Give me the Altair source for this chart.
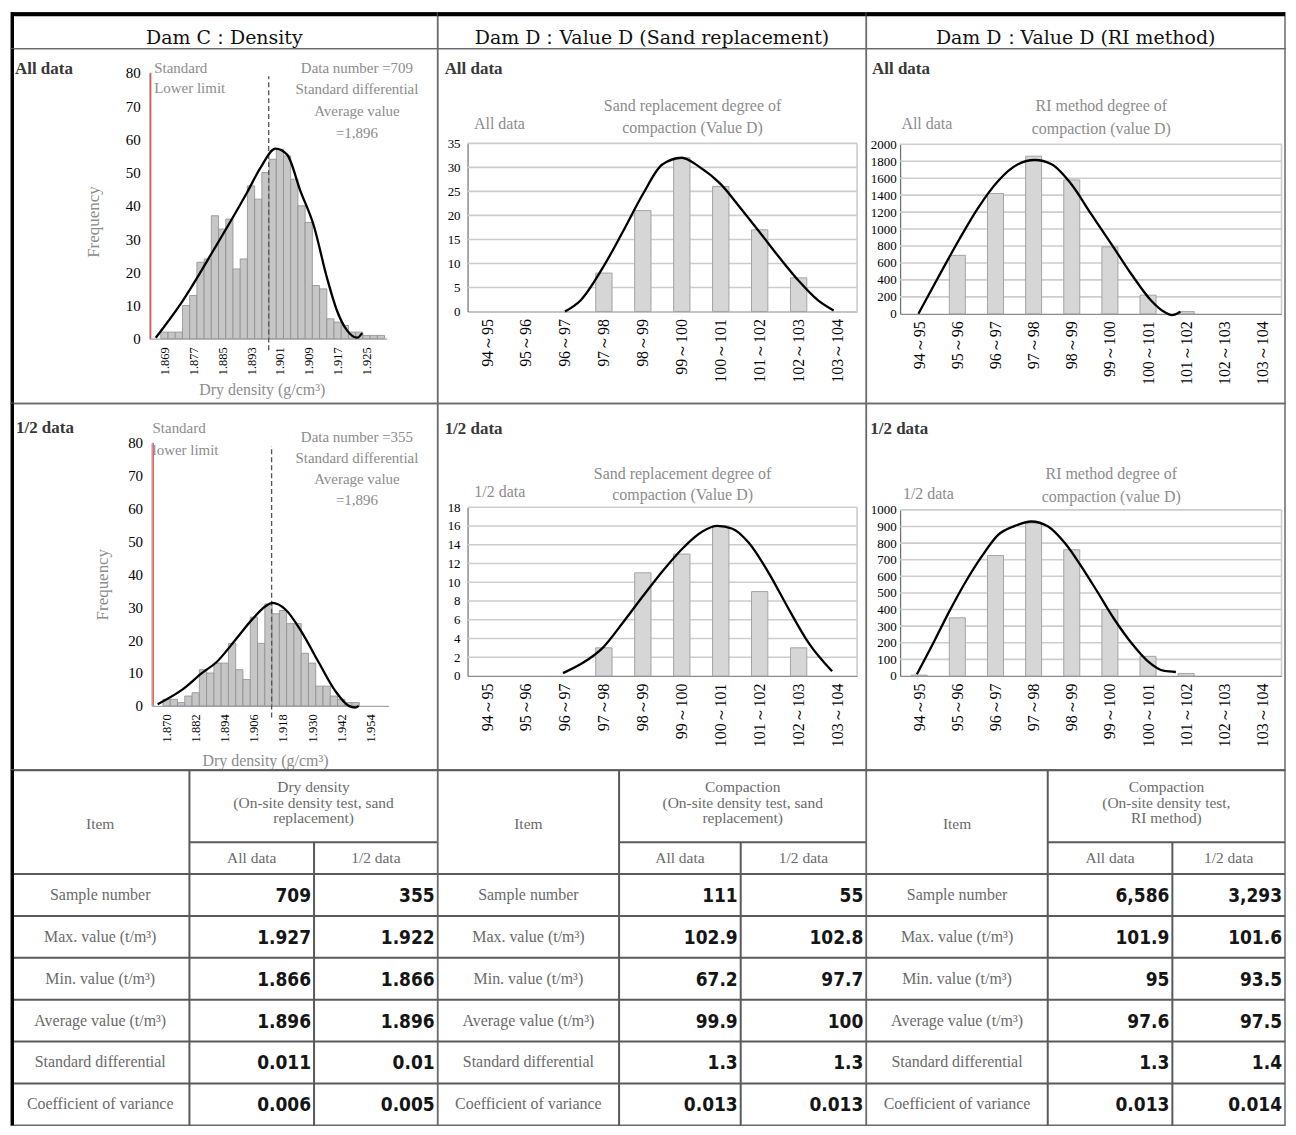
import altair as alt
import pandas as pd

SERIF = "Liberation Serif"
HEADF = "DejaVu Serif"
NARROW = "Liberation Sans Narrow, DejaVu Sans Condensed, Liberation Sans"
NOTE = "#8c8c8c"

COL_W = [428, 430, 420]
HEAD_H = 36
ROW1_H = 356
ROW2_H = 368
TAB_H = 356

# ---------------- data ----------------
HEADERS = ["Dam C：Density", "Dam D：Value D (Sand replacement)", "Dam D：Value D (RI method)"]

# Dam C dry density histogram, all data (bins of 0.002, labelled at bin centre)
DEN_ALL_FIRST = 1.869
DEN_ALL_BIN = 0.002
DEN_ALL_COUNTS = [2, 2, 2, 10, 13, 23, 24, 37, 33, 36, 21, 24, 46, 42, 50, 54, 57, 55, 48, 40,
                  35, 16, 15, 6, 5, 4, 2, 2, 1, 1, 1]
DEN_ALL_TICKS = [1.869, 1.877, 1.885, 1.893, 1.901, 1.909, 1.917, 1.925]
DEN_ALL_CURVE_X = [1.8666, 1.8735, 1.8828, 1.8919, 1.8956, 1.8998, 1.9030, 1.9067, 1.9104,
                   1.9140, 1.9168, 1.9196, 1.9224, 1.9238]
DEN_ALL_CURVE_Y = [0.3, 10.5, 27, 44, 51.4, 57.2, 55.4, 44.4, 34, 18.5, 8.5, 2.5, 0.3, 1.7]
DEN_ALL_MEAN = 1.8979
DEN_ALL_LOWER = 1.8652

# Dam C dry density histogram, 1/2 data (bins of 0.003)
DEN_HALF_FIRST = 1.870
DEN_HALF_BIN = 0.003
DEN_HALF_COUNTS = [2, 2, 1, 3, 4, 11, 10, 13, 13, 19, 11, 8, 27, 19, 31, 28, 29, 25, 25, 16,
                   13, 6, 6, 3, 2, 1, 1]
DEN_HALF_TICKS = [1.870, 1.882, 1.894, 1.906, 1.918, 1.930, 1.942, 1.954]
DEN_HALF_CURVE_X = [1.8663, 1.8766, 1.8848, 1.8903, 1.8985, 1.9053, 1.9108, 1.9136, 1.9190,
                    1.9259, 1.9328, 1.9396, 1.9451, 1.9478, 1.9492]
DEN_HALF_CURVE_Y = [0.5, 5, 10.1, 13.1, 20.2, 26.3, 30.3, 31.3, 29.3, 22.2, 13.1, 4.5, 0, -0.5, 0]
DEN_HALF_MEAN = 1.9133
DEN_HALF_LOWER = 1.8645

DEN_YTICKS = [0, 10, 20, 30, 40, 50, 60, 70, 80]

# Dam D compaction classes
D_CATS = ["94～95", "95～96", "96～97", "97～98", "98～99", "99～100",
          "100～101", "101～102", "102～103", "103～104"]

SAND_ALL = [0, 0, 0, 8, 21, 32, 26, 17, 7, 0]
SAND_ALL_CURVE_X = [2, 2.4, 3, 3.5, 4, 4.5, 5, 5.45, 6, 6.5, 7, 7.5, 8, 8.5, 8.9]
SAND_ALL_CURVE_Y = [0, 2.3, 9.5, 16.8, 24.4, 30.6, 32, 30.1, 26.5, 21.6, 16.5, 11.3, 6.4, 2.3, 0.2]
SAND_ALL_YTICKS = [0, 5, 10, 15, 20, 25, 30, 35]

SAND_HALF = [0, 0, 0, 3, 11, 13, 16, 9, 3, 0]
SAND_HALF_CURVE_X = [1.95, 2.46, 2.97, 3.49, 4.0, 4.51, 5.02, 5.53, 5.91, 6.3, 6.72, 7.23, 7.75, 8.26, 8.86]
SAND_HALF_CURVE_Y = [0.3, 1.4, 3.0, 5.7, 8.5, 11.2, 13.6, 15.4, 16.0, 15.7, 14.2, 11.0, 7.1, 3.5, 0.5]
SAND_HALF_YTICKS = [0, 2, 4, 6, 8, 10, 12, 14, 16, 18]

RI_ALL = [0, 690, 1420, 1860, 1580, 790, 220, 26, 0, 0]
RI_ALL_CURVE_X = [-0.02, 0.5, 1.03, 1.55, 2.07, 2.59, 3.03, 3.47, 3.99, 4.51, 5.04, 5.56, 6.08,
                  6.43, 6.62, 6.85]
RI_ALL_CURVE_Y = [0, 431, 862, 1254, 1568, 1764, 1815, 1764, 1529, 1176, 823, 470, 157, 20, -15, 25]
RI_ALL_YTICKS = [0, 200, 400, 600, 800, 1000, 1200, 1400, 1600, 1800, 2000]

RI_HALF = [5, 350, 725, 920, 760, 400, 118, 15, 0, 0]
RI_HALF_CURVE_X = [-0.06, 0.33, 0.77, 1.20, 1.64, 2.07, 2.51, 2.94, 3.38, 3.82, 4.25, 4.69, 5.12,
                   5.56, 5.99, 6.43, 6.73]
RI_HALF_CURVE_Y = [10, 180, 380, 560, 720, 850, 904, 930, 900, 800, 660, 500, 340, 200, 90, 30, 24]
RI_HALF_YTICKS = [0, 100, 200, 300, 400, 500, 600, 700, 800, 900, 1000]

# Summary table
TAB_ITEMS = ["Sample number", "Max. value (t/m³)", "Min. value (t/m³)", "Average value (t/m³)",
             "Standard differential", "Coefficient of variance"]
TAB_GROUPS = ["Dry density\n(On-site density test, sand\nreplacement)",
              "Compaction\n(On-site density test, sand\nreplacement)",
              "Compaction\n(On-site density test,\nRI method)"]
TAB_SUB = ["All data", "1/2 data"]
DRY_ALL = ["709", "1.927", "1.866", "1.896", "0.011", "0.006"]
DRY_HALF = ["355", "1.922", "1.866", "1.896", "0.01", "0.005"]
SANDT_ALL = ["111", "102.9", "67.2", "99.9", "1.3", "0.013"]
SANDT_HALF = ["55", "102.8", "97.7", "100", "1.3", "0.013"]
RIT_ALL = ["6,586", "101.9", "95", "97.6", "1.3", "0.013"]
RIT_HALF = ["3,293", "101.6", "93.5", "97.5", "1.4", "0.014"]


# ---------------- helpers ----------------
def txt(text, x, y, size=16, color=NOTE, font=SERIF, weight="normal", align="center",
        angle=0, line_height=None):
    kw = dict(font=font, fontSize=size, color=color, fontWeight=weight, align=align,
              baseline="middle", angle=angle, lineBreak="\n")
    if line_height is not None:
        kw["lineHeight"] = line_height
    return alt.Chart(pd.DataFrame({"t": [text]})).mark_text(**kw).encode(
        x=alt.value(x), y=alt.value(y), text="t:N")


def left_border(h):
    return alt.Chart(pd.DataFrame({"a": [0]})).mark_rule(color="black", strokeWidth=3).encode(
        x=alt.value(1.5), y=alt.value(0), y2=alt.value(h))


def hist_cell(h, first, step, counts, ticks, cx, cy, lower, mean, xdom, xr, y0, y80, notes):
    centers = [first + step * i for i in range(len(counts))]
    bars_df = pd.DataFrame({"a": [c - step / 2 for c in centers],
                            "b": [c + step / 2 for c in centers],
                            "n": counts, "z": [0] * len(counts)})
    xs = alt.Scale(domain=xdom, range=xr, nice=False, zero=False)
    ys = alt.Scale(domain=[0, 80], range=[y0, y80], nice=False, zero=False)
    ax_x = alt.Axis(orient="bottom", offset=-(h - y0), values=ticks, format=".3f",
                    labelAngle=270, labelFont=SERIF, labelFontSize=12.5, labelColor="black",
                    labelPadding=8, ticks=False, tickSize=0, domainColor="#a8a8a8",
                    domainWidth=1.2, grid=False, labelFlush=False, labelOverlap=False, title=None)
    ax_y = alt.Axis(orient="left", offset=-xr[0], values=DEN_YTICKS, labelFont=SERIF,
                    labelFontSize=15, labelColor="black", labelPadding=9, ticks=False,
                    tickSize=0, domainColor="#a8a8a8", domainWidth=1.2, grid=False,
                    labelFlush=False, labelOverlap=False, title=None)
    bars = alt.Chart(bars_df).mark_bar(fill="#c6c6c6", stroke="#8e8e8e", strokeWidth=0.8).encode(
        x=alt.X("a:Q", scale=xs, axis=ax_x), x2="b:Q",
        y=alt.Y("n:Q", scale=ys, axis=ax_y), y2="z:Q")
    curve = alt.Chart(pd.DataFrame({"x": cx, "y": cy})).mark_line(
        color="black", strokeWidth=2.3, interpolate="monotone").encode(
        x=alt.X("x:Q", scale=xs, axis=ax_x), y=alt.Y("y:Q", scale=ys, axis=ax_y))
    mean_r = alt.Chart(pd.DataFrame({"x": [mean], "y": [-3.5], "y2": [79]})).mark_rule(
        color="#555555", strokeDash=[5, 3], strokeWidth=1.3).encode(
        x=alt.X("x:Q", scale=xs, axis=ax_x), y=alt.Y("y:Q", scale=ys, axis=ax_y), y2="y2:Q")
    low_r = alt.Chart(pd.DataFrame({"x": [lower], "y": [0], "y2": [80]})).mark_rule(
        color="#e0524a", strokeWidth=1.3).encode(
        x=alt.X("x:Q", scale=xs, axis=ax_x), y=alt.Y("y:Q", scale=ys, axis=ax_y), y2="y2:Q")
    layers = [bars, mean_r, low_r, curve] + notes + [left_border(h)]
    return alt.layer(*layers).properties(width=COL_W[0], height=h)


def cat_cell(w, h, vals, cx, cy, yticks, xr, y0, ytop, ylabpad, notes):
    n = len(D_CATS)
    xs = alt.Scale(domain=[-0.5, n - 0.5], range=xr, nice=False, zero=False)
    ymax = yticks[-1]
    ys = alt.Scale(domain=[0, ymax], range=[y0, ytop], nice=False, zero=False)
    expr = "[" + ",".join("'" + c + "'" for c in D_CATS) + "][datum.value]"
    ax_x = alt.Axis(orient="bottom", offset=-(h - y0), values=list(range(n)), labelExpr=expr,
                    labelAngle=270, labelFont=SERIF, labelFontSize=16, labelColor="black",
                    labelPadding=7, ticks=False, tickSize=0, domainColor="#8c8c8c",
                    domainWidth=1.2, grid=False, labelFlush=False, labelOverlap=False, title=None)
    ax_y = alt.Axis(orient="left", offset=-xr[0], values=yticks, format="d", labelFont=SERIF,
                    labelFontSize=13, labelColor="black", labelPadding=ylabpad, ticks=False,
                    tickSize=0, domainColor="#6e6e6e", domainWidth=1.2, grid=False,
                    labelFlush=False, labelOverlap=False, title=None)
    grid_df = pd.DataFrame({"y": yticks[1:], "a": [-0.5] * (len(yticks) - 1),
                            "b": [n - 0.5] * (len(yticks) - 1)})
    grid = alt.Chart(grid_df).mark_rule(color="#cdcdcd", strokeWidth=1.6).encode(
        x=alt.X("a:Q", scale=xs, axis=ax_x), x2="b:Q", y=alt.Y("y:Q", scale=ys, axis=ax_y))
    edge = alt.Chart(pd.DataFrame({"x": [n - 0.5], "y": [0], "y2": [ymax]})).mark_rule(
        color="#cdcdcd", strokeWidth=1.6).encode(
        x=alt.X("x:Q", scale=xs, axis=ax_x), y=alt.Y("y:Q", scale=ys, axis=ax_y), y2="y2:Q")
    bars_df = pd.DataFrame({"a": [i - 0.21 for i in range(n)], "b": [i + 0.21 for i in range(n)],
                            "v": vals, "z": [0] * n})
    bars_df = bars_df[bars_df["v"] > 0]
    bars = alt.Chart(bars_df).mark_bar(fill="#d6d6d6", stroke="#a4a4a4", strokeWidth=1).encode(
        x=alt.X("a:Q", scale=xs, axis=ax_x), x2="b:Q",
        y=alt.Y("v:Q", scale=ys, axis=ax_y), y2="z:Q")
    curve = alt.Chart(pd.DataFrame({"x": cx, "y": cy})).mark_line(
        color="black", strokeWidth=2.3, interpolate="monotone").encode(
        x=alt.X("x:Q", scale=xs, axis=ax_x), y=alt.Y("y:Q", scale=ys, axis=ax_y))
    layers = [grid, edge, bars, curve] + notes
    return alt.layer(*layers).properties(width=w, height=h)


def header_cell(i):
    w = COL_W[i]
    layers = [txt(HEADERS[i], w / 2, 25, size=19, color="#111111", font=HEADF),
              alt.Chart(pd.DataFrame({"a": [0]})).mark_rule(color="black", strokeWidth=4).encode(
                  x=alt.value(0), x2=alt.value(w), y=alt.value(1.5))]
    if i == 0:
        layers.append(left_border(HEAD_H))
    return alt.layer(*layers).properties(width=w, height=HEAD_H)


def bold(t, x, y):
    return txt(t, x, y, size=17, color="#383838", weight="bold", align="left")


# ---------------- chart cells ----------------
den_all = hist_cell(
    ROW1_H, DEN_ALL_FIRST, DEN_ALL_BIN, DEN_ALL_COUNTS, DEN_ALL_TICKS,
    DEN_ALL_CURVE_X, DEN_ALL_CURVE_Y, DEN_ALL_LOWER, DEN_ALL_MEAN,
    [1.8648, 1.93063], [138.7, 377], 291, 24.3,
    [bold("All data", 4, 20),
     txt("Standard\nLower limit", 143.7, 19.3, align="left", line_height=20, size=15),
     txt("Data number =709\nStandard differential\nAverage value\n=1,896", 347, 19.3,
         line_height=21.7, size=15),
     txt("Frequency", 83.7, 174, angle=270, size=17),
     txt("Dry density (g/cm³)", 252, 342.7, size=16)])

den_half = hist_cell(
    ROW2_H, DEN_HALF_FIRST, DEN_HALF_BIN, DEN_HALF_COUNTS, DEN_HALF_TICKS,
    DEN_HALF_CURVE_X, DEN_HALF_CURVE_Y, DEN_HALF_LOWER, DEN_HALF_MEAN,
    [1.8638, 1.9615], [141, 378.7], 303.3, 39.3,
    [bold("1/2 data", 5, 25),
     txt("Standard\nlower limit", 142, 25, align="left", line_height=21.7, size=15),
     txt("Data number =355\nStandard differential\nAverage value\n=1,896", 347, 33.3,
         line_height=21.3, size=15),
     txt("Frequency", 92, 181.7, angle=270, size=17),
     txt("Dry density (g/cm³)", 255.3, 358.3, size=16)])

sand_all = cat_cell(
    COL_W[1], ROW1_H, SAND_ALL, SAND_ALL_CURVE_X, SAND_ALL_CURVE_Y, SAND_ALL_YTICKS,
    [30, 420.7], 263.7, 95, 7.5,
    [bold("All data", 7, 20),
     txt("All data", 62, 76),
     txt("Sand replacement degree of\ncompaction (Value D)", 255.7, 58, line_height=21.6)])

sand_half = cat_cell(
    COL_W[1], ROW2_H, SAND_HALF, SAND_HALF_CURVE_X, SAND_HALF_CURVE_Y, SAND_HALF_YTICKS,
    [30, 420.7], 273.3, 104, 7.5,
    [bold("1/2 data", 7, 26),
     txt("1/2 data", 62.3, 88.3),
     txt("Sand replacement degree of\ncompaction (Value D)", 245.7, 71, line_height=21)])

ri_all = cat_cell(
    COL_W[2], ROW1_H, RI_ALL, RI_ALL_CURVE_X, RI_ALL_CURVE_Y, RI_ALL_YTICKS,
    [33.9, 416.5], 266, 96, 4,
    [bold("All data", 5.7, 20),
     txt("All data", 60.7, 76),
     txt("RI method degree of\ncompaction (value D)", 235.7, 58, line_height=22.3)])

ri_half = cat_cell(
    COL_W[2], ROW2_H, RI_HALF, RI_HALF_CURVE_X, RI_HALF_CURVE_Y, RI_HALF_YTICKS,
    [33.9, 416.5], 273.3, 106.7, 4,
    [bold("1/2 data", 4, 26),
     txt("1/2 data", 62.3, 90.7),
     txt("RI method degree of\ncompaction (value D)", 245.7, 71, line_height=22.6)])

# ---------------- table (one panel per column group) ----------------
GX = [[0, 179, 304, 428], [0, 182, 304, 430], [0, 182, 307, 420]]
HEAD_B = 104
SUB_Y = 72
ROW_H = 42
value_cols = [(DRY_ALL, DRY_HALF), (SANDT_ALL, SANDT_HALF), (RIT_ALL, RIT_HALF)]


def table_cell(g):
    w = COL_W[g]
    x0, x1, x2, x3 = GX[g]
    txs = alt.Scale(domain=[0, w], range=[0, w], nice=False, zero=False)
    tys = alt.Scale(domain=[0, TAB_H], range=[0, TAB_H], nice=False, zero=False)

    head_rows = [{"x": (x0 + x1) / 2, "y": 54, "t": "Item"},
                 {"x": (x1 + x3) / 2, "y": 17, "t": TAB_GROUPS[g]}]
    sub_rows = [{"x": (x1 + x2) / 2, "y": (SUB_Y + HEAD_B) / 2, "t": TAB_SUB[0]},
                {"x": (x2 + x3) / 2, "y": (SUB_Y + HEAD_B) / 2, "t": TAB_SUB[1]}]
    item_rows, num_rows = [], []
    for r, item in enumerate(TAB_ITEMS):
        yc = HEAD_B + ROW_H * (r + 0.5)
        item_rows.append({"x": (x0 + x1) / 2, "y": yc, "t": item})
        num_rows.append({"x": x2 - 3, "y": yc + 1, "t": value_cols[g][0][r]})
        num_rows.append({"x": x3 - 3, "y": yc + 1, "t": value_cols[g][1][r]})

    line_rows = []
    for yy in [0, HEAD_B] + [HEAD_B + ROW_H * k for k in range(1, 6)]:
        line_rows.append({"a": 0, "b": w, "c": yy, "d": yy})
    line_rows.append({"a": x1, "b": x3, "c": SUB_Y, "d": SUB_Y})
    line_rows.append({"a": x1, "b": x1, "c": 0, "d": TAB_H})
    line_rows.append({"a": x2, "b": x2, "c": SUB_Y, "d": TAB_H})

    def tab_text(rows, **kw):
        return alt.Chart(pd.DataFrame(rows)).mark_text(baseline="middle", lineBreak="\n", **kw).encode(
            x=alt.X("x:Q", scale=txs, axis=None), y=alt.Y("y:Q", scale=tys, axis=None), text="t:N")

    lines = alt.Chart(pd.DataFrame(line_rows)).mark_rule(color="#5a5a5a", strokeWidth=2).encode(
        x=alt.X("a:Q", scale=txs, axis=None), x2="b:Q",
        y=alt.Y("c:Q", scale=tys, axis=None), y2="d:Q")
    layers = [
        lines,
        tab_text(head_rows, font=SERIF, fontSize=15.5, color="#6a6a6a", align="center", lineHeight=15.5),
        tab_text(sub_rows, font=SERIF, fontSize=15.5, color="#6a6a6a", align="center"),
        tab_text(item_rows, font=SERIF, fontSize=16, color="#6a6a6a", align="center"),
        tab_text(num_rows, font=NARROW, fontSize=19, fontWeight="bold", color="#151515", align="right"),
    ]
    if g == 0:
        layers.append(left_border(TAB_H))
    return alt.layer(*layers).properties(width=w, height=TAB_H)


# ---------------- assemble as a flat 4 x 3 grid ----------------
cells = [header_cell(0), header_cell(1), header_cell(2),
         den_all, sand_all, ri_all,
         den_half, sand_half, ri_half,
         table_cell(0), table_cell(1), table_cell(2)]

chart = alt.concat(*cells, columns=3, spacing=0, bounds="flush", align="each").properties(
    padding=0, background="white"
).configure_view(stroke="#6a6a6a", strokeWidth=1.5)

chart.save("out.html", embed_options={"renderer": "svg", "actions": False})
